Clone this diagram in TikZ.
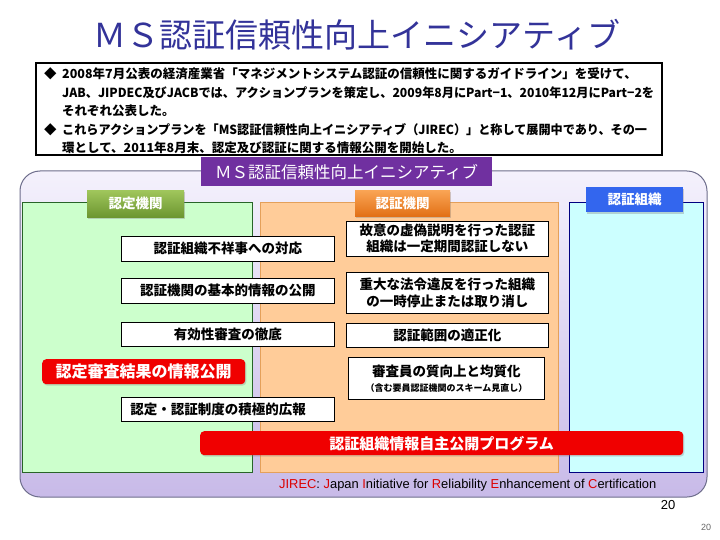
\documentclass[tikz,border=0pt]{standalone}
\usepackage{fontspec}
\setmainfont{Liberation Sans}
\newfontfamily\jp{Noto Sans CJK JP}
\usetikzlibrary{shadows}
\definecolor{titleblue}{RGB}{51,51,153}
\definecolor{hdrpurple}{RGB}{112,48,160}
\definecolor{lavtop}{RGB}{244,241,252}
\definecolor{lavmid}{RGB}{222,214,242}
\definecolor{lavbot}{RGB}{200,186,232}
\definecolor{lavborder}{RGB}{110,110,140}
\definecolor{greenfill}{RGB}{204,255,204}
\definecolor{greenborder}{RGB}{40,100,40}
\definecolor{orangefill}{RGB}{255,204,153}
\definecolor{orangeborder}{RGB}{228,160,90}
\definecolor{cyanfill}{RGB}{204,255,255}
\definecolor{cyanborder}{RGB}{0,0,128}
\definecolor{tabgreenT}{RGB}{160,198,92}
\definecolor{tabgreenB}{RGB}{108,150,48}
\definecolor{taborangeT}{RGB}{250,165,85}
\definecolor{taborangeB}{RGB}{226,112,22}
\definecolor{tabblue}{RGB}{51,102,238}
\definecolor{redbox}{RGB}{240,0,0}
\definecolor{jred}{RGB}{220,0,0}
\begin{document}
\begin{tikzpicture}[x=1pt,y=-1pt,
  wbox/.style={draw=black, line width=0.8pt, fill=white, inner sep=0pt, anchor=north west,
    font=\jp\bfseries\fontsize{13.5}{16}\selectfont, align=center},
  tabbox/.style={inner sep=0pt, anchor=north west, text=white,
    font=\jp\bfseries\fontsize{13.5}{16}\selectfont,
    drop shadow={shadow xshift=1.2pt, shadow yshift=-1.5pt, opacity=0.35}},
  redbtn/.style={fill=redbox, rounded corners=4pt, inner sep=0pt, anchor=north west, text=white,
    drop shadow={shadow xshift=1.2pt, shadow yshift=-1.5pt, opacity=0.3}},
  boxline/.style={anchor=west, inner sep=0pt, font=\jp\bfseries\fontsize{12.5}{15}\selectfont}
]
\useasboundingbox[fill=white] (0,0) rectangle (720,540);

% title
\node[font=\jp\fontsize{33}{36}\selectfont, text=titleblue] (title) at (357,35) {ＭＳ認証信頼性向上イニシアティブ};

% black bordered box
\draw[line width=2.2pt, black] (36,63) rectangle (662,155);
\node[boxline] (b1) at (44,74) {◆};
\node[boxline] (l1) at (62,74) {2008年7月公表の経済産業省「マネジメントシステム認証の信頼性に関するガイドライン」を受けて、};
\node[boxline] (l2) at (62,92.5) {\scalebox{0.975}[1]{JAB、JIPDEC及びJACBでは、アクションプランを策定し、2009年8月にPart−1、2010年12月にPart−2を}};
\node[boxline] (l3) at (62,111) {それぞれ公表した。};
\node[boxline] (b2) at (44,129.5) {◆};
\node[boxline] (l4) at (62,129.5) {\scalebox{0.97}[1]{これらアクションプランを「MS認証信頼性向上イニシアティブ（JIREC）」と称して展開中であり、その一}};
\node[boxline] (l5) at (62,148) {環として、2011年8月末、認定及び認証に関する情報公開を開始した。};

% big lavender rounded frame
\draw[rounded corners=20pt, draw=lavborder, line width=1pt, top color=lavtop, bottom color=lavbot, middle color=lavmid]
  (20,171) rectangle (707,497);

% header
\node[fill=hdrpurple, inner sep=0pt, minimum width=291pt, minimum height=29pt, anchor=north west,
  text=white, font=\jp\fontsize{16.5}{18}\selectfont] (hdr) at (201,157) {ＭＳ認証信頼性向上イニシアティブ};

% panels
\draw[fill=greenfill, draw=greenborder, line width=0.6pt] (22,202) rectangle (252,472);
\draw[fill=orangefill, draw=orangeborder, line width=0.6pt] (260,202) rectangle (558,472);
\draw[fill=cyanfill, draw=cyanborder, line width=0.8pt] (569,202) rectangle (703,472);

% tabs
\node[tabbox, top color=tabgreenT, bottom color=tabgreenB, minimum width=97pt, minimum height=27pt] (tg) at (87,190) {認定機関};
\node[tabbox, top color=taborangeT, bottom color=taborangeB, minimum width=95pt, minimum height=26pt] (to) at (355,190) {認証機関};
\node[tabbox, fill=tabblue, minimum width=97pt, minimum height=25pt] (tb) at (586,187) {認証組織};

% white boxes (accreditation)
\node[wbox, minimum width=213pt, minimum height=25pt] (w1) at (121,236) {認証組織不祥事への対応};
\node[wbox, minimum width=213pt, minimum height=25pt] (w2) at (121,278) {認証機関の基本的情報の公開};
\node[wbox, minimum width=213pt, minimum height=24pt] (w3) at (121,322) {有効性審査の徹底};
\node[wbox, minimum height=24pt, text width=195pt, inner xsep=9pt, align=left] (w4) at (121,397) {認定・認証制度の積極的広報};

% white boxes (certification bodies)
\node[wbox, minimum width=202pt, minimum height=35pt, font=\jp\bfseries\fontsize{13.5}{16}\selectfont] (o1) at (346,221) {故意の虚偽説明を行った認証\\組織は一定期間認証しない};
\node[wbox, minimum width=202pt, minimum height=41pt, font=\jp\bfseries\fontsize{13.5}{17}\selectfont] (o2) at (346,272) {重大な法令違反を行った組織\\の一時停止または取り消し};
\node[wbox, minimum width=202pt, minimum height=24pt] (o3) at (346,323) {認証範囲の適正化};
\node[wbox, minimum width=196pt, minimum height=42pt] (o4) at (348,357) {審査員の質向上と均質化\\[-1pt]{\fontsize{9}{11}\selectfont （含む要員認証機関のスキーム見直し）}};

% red buttons
\node[redbtn, minimum width=203pt, minimum height=25pt, font=\jp\bfseries\fontsize{16}{18}\selectfont] (r1) at (42,359) {認定審査結果の情報公開};
\node[redbtn, minimum width=483pt, minimum height=24pt, font=\jp\bfseries\fontsize{15}{18}\selectfont] (r2) at (200,431) {認証組織情報自主公開プログラム};

% JIREC line
\node[anchor=west, inner sep=0pt, font=\fontsize{12.9}{15}\selectfont] (jirec) at (279,485)
 {\textcolor{jred}{JIREC}: \textcolor{jred}{J}apan \textcolor{jred}{I}nitiative for \textcolor{jred}{R}eliability \textcolor{jred}{E}nhancement of \textcolor{jred}{C}ertification};

% page numbers
\node[font=\fontsize{13}{15}\selectfont] (pn1) at (668,505) {20};
\node[font=\fontsize{9}{11}\selectfont, text=black!60] (pn2) at (706,527) {20};
\end{tikzpicture}
\end{document}
